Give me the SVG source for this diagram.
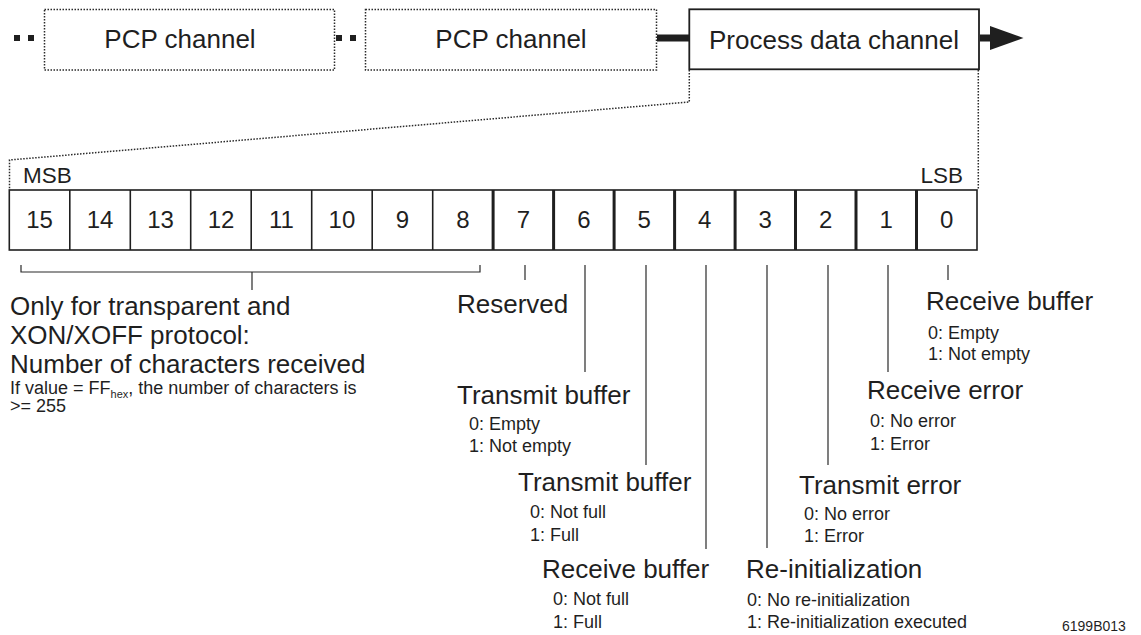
<svg xmlns="http://www.w3.org/2000/svg" width="1141" height="635" viewBox="0 0 1141 635">
<style>
text{font-family:"Liberation Sans",Arial,Helvetica,sans-serif;fill:#1f1f1f}
.big{font-size:26px}
.sm{font-size:18px}
.num{font-size:24px;text-anchor:middle}
.dot{fill:none;stroke:#2a2a2a;stroke-width:1.5;stroke-dasharray:1.5 1.5}
.thin{stroke:#2a2a2a;stroke-width:1.2;fill:none}
.cell{fill:none;stroke:#1f1f1f;stroke-width:1.6}
.sep{stroke:#1f1f1f;stroke-width:1.6}
.sepb{stroke:#1f1f1f;stroke-width:3}
</style>
<rect width="1141" height="635" fill="#fff"/>

<g id="pcp1">
<rect class="dot" x="44.5" y="9.5" width="290" height="60.5"/>
<text class="big" x="180" y="48" text-anchor="middle">PCP channel</text>
</g>
<g id="pcp2">
<rect class="dot" x="365.5" y="9.5" width="291" height="60.5"/>
<text class="big" x="511" y="48" text-anchor="middle">PCP channel</text>
</g>
<g id="process">
<rect x="689.3" y="9.3" width="289.7" height="60" fill="#fff" stroke="#1f1f1f" stroke-width="1.8"/>
<text class="big" x="834" y="49" text-anchor="middle">Process data channel</text>
</g>

<g id="connectors">
<rect x="14" y="35" width="6" height="6" fill="#1f1f1f"/>
<rect x="28" y="35" width="6" height="6" fill="#1f1f1f"/>
<rect x="336" y="35" width="6" height="6" fill="#1f1f1f"/>
<rect x="350" y="35" width="6" height="6" fill="#1f1f1f"/>
<rect x="657" y="34.5" width="32" height="7" fill="#1f1f1f"/>
<rect x="980" y="34.5" width="12" height="7" fill="#1f1f1f"/>
<polygon points="990,26 1023.5,38 990,50" fill="#1f1f1f"/>
<path class="dot" d="M689.3,70 V102 L9.5,160 V190"/>
<path class="dot" d="M978.3,70 V190"/>
<path class="thin" d="M21,265 V272 H480 V265 M252,272 V290"/>
<path class="thin" d="M525,265 V280 M585,265 V372 M646,265 V465 M706,265 V549 M767,265 V548 M828,265 V465 M888,265 V372 M948,265 V280"/>
</g>

<g id="register">
<text x="23" y="183" style="font-size:22.5px">MSB</text>
<text x="963" y="183" style="font-size:22.5px" text-anchor="end">LSB</text>
<rect class="cell" x="9.3" y="190" width="967.7" height="60"/>
<line class="sep" x1="69.8" y1="190" x2="69.8" y2="250"/>
<line class="sep" x1="130.3" y1="190" x2="130.3" y2="250"/>
<line class="sep" x1="190.7" y1="190" x2="190.7" y2="250"/>
<line class="sep" x1="251.2" y1="190" x2="251.2" y2="250"/>
<line class="sep" x1="311.7" y1="190" x2="311.7" y2="250"/>
<line class="sep" x1="372.2" y1="190" x2="372.2" y2="250"/>
<line class="sep" x1="432.7" y1="190" x2="432.7" y2="250"/>
<line class="sepb" x1="493.1" y1="190" x2="493.1" y2="250"/>
<line class="sepb" x1="553.6" y1="190" x2="553.6" y2="250"/>
<line class="sepb" x1="614.1" y1="190" x2="614.1" y2="250"/>
<line class="sepb" x1="674.6" y1="190" x2="674.6" y2="250"/>
<line class="sepb" x1="735.1" y1="190" x2="735.1" y2="250"/>
<line class="sepb" x1="795.5" y1="190" x2="795.5" y2="250"/>
<line class="sepb" x1="856" y1="190" x2="856" y2="250"/>
<line class="sepb" x1="916.5" y1="190" x2="916.5" y2="250"/>
<text class="num" x="39.6" y="228">15</text>
<text class="num" x="100" y="228">14</text>
<text class="num" x="160.5" y="228">13</text>
<text class="num" x="221" y="228">12</text>
<text class="num" x="281.4" y="228">11</text>
<text class="num" x="341.9" y="228">10</text>
<text class="num" x="402.4" y="228">9</text>
<text class="num" x="462.9" y="228">8</text>
<text class="num" x="523.4" y="228">7</text>
<text class="num" x="583.9" y="228">6</text>
<text class="num" x="644.3" y="228">5</text>
<text class="num" x="704.8" y="228">4</text>
<text class="num" x="765.3" y="228">3</text>
<text class="num" x="825.8" y="228">2</text>
<text class="num" x="886.2" y="228">1</text>
<text class="num" x="946.7" y="228">0</text>
</g>

<g id="bits15-8">
<text class="big" x="10" y="315">Only for transparent and</text>
<text class="big" x="10" y="344">XON/XOFF protocol:</text>
<text class="big" x="10" y="373">Number of characters received</text>
<text class="sm" x="10" y="394">If value = FF<tspan style="font-size:11px" dy="4">hex</tspan><tspan dy="-4">, the number of characters is</tspan></text>
<text class="sm" x="10" y="412">&gt;= 255</text>
</g>
<g id="bit7">
<text class="big" x="457" y="313">Reserved</text>
</g>
<g id="bit6">
<text class="big" x="457" y="404">Transmit buffer</text>
<text class="sm" x="469" y="430">0: Empty</text>
<text class="sm" x="469" y="452">1: Not empty</text>
</g>
<g id="bit5">
<text class="big" x="518" y="491">Transmit buffer</text>
<text class="sm" x="530" y="518">0: Not full</text>
<text class="sm" x="530" y="541">1: Full</text>
</g>
<g id="bit4">
<text class="big" x="542" y="578">Receive buffer</text>
<text class="sm" x="553" y="605">0: Not full</text>
<text class="sm" x="553" y="628">1: Full</text>
</g>
<g id="bit3">
<text class="big" x="746" y="578">Re-initialization</text>
<text class="sm" x="747" y="606">0: No re-initialization</text>
<text class="sm" x="747" y="628">1: Re-initialization executed</text>
</g>
<g id="bit2">
<text class="big" x="799" y="494">Transmit error</text>
<text class="sm" x="804" y="520">0: No error</text>
<text class="sm" x="804" y="542">1: Error</text>
</g>
<g id="bit1">
<text class="big" x="867" y="399">Receive error</text>
<text class="sm" x="870" y="427">0: No error</text>
<text class="sm" x="870" y="450">1: Error</text>
</g>
<g id="bit0">
<text class="big" x="926" y="310">Receive buffer</text>
<text class="sm" x="928" y="339">0: Empty</text>
<text class="sm" x="928" y="360">1: Not empty</text>
</g>
<g id="figid">
<text x="1062" y="631" style="font-size:14px">6199B013</text>
</g>
</svg>
